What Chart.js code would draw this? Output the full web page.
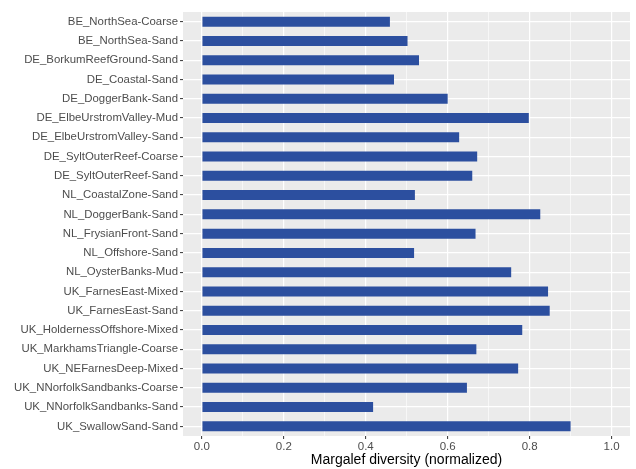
<!DOCTYPE html>
<html>
<head>
<meta charset="utf-8">
<script src="https://cdn.jsdelivr.net/npm/chart.js@4/dist/chart.umd.min.js"></script>
<style>
  html, body { margin: 0; padding: 0; background: #fff; }
  #wrap { width: 636px; height: 469px; }
</style>
</head>
<body>
<div id="wrap"><canvas id="chart" width="636" height="469"></canvas></div>
<script>
const sites = [
  "BE_NorthSea-Coarse", "BE_NorthSea-Sand", "DE_BorkumReefGround-Sand", "DE_Coastal-Sand",
  "DE_DoggerBank-Sand", "DE_ElbeUrstromValley-Mud", "DE_ElbeUrstromValley-Sand",
  "DE_SyltOuterReef-Coarse", "DE_SyltOuterReef-Sand", "NL_CoastalZone-Sand",
  "NL_DoggerBank-Sand", "NL_FrysianFront-Sand", "NL_Offshore-Sand", "NL_OysterBanks-Mud",
  "UK_FarnesEast-Mixed", "UK_FarnesEast-Sand", "UK_HoldernessOffshore-Mixed",
  "UK_MarkhamsTriangle-Coarse", "UK_NEFarnesDeep-Mixed", "UK_NNorfolkSandbanks-Coarse",
  "UK_NNorfolkSandbanks-Sand", "UK_SwallowSand-Sand"
];
const margalef = [
  0.459, 0.502, 0.530, 0.469, 0.600, 0.798, 0.628, 0.672, 0.660, 0.520, 0.826,
  0.668, 0.518, 0.755, 0.845, 0.849, 0.782, 0.670, 0.772, 0.647, 0.418, 0.900
];
const xMajor = [0, 0.2, 0.4, 0.6, 0.8, 1.0];
const xMinor = [0.1, 0.3, 0.5, 0.7, 0.9];

const panelBg = {
  id: "panelBg",
  beforeDraw(chart) {
    const { ctx, chartArea: a } = chart;
    ctx.save();
    ctx.fillStyle = "#ebebeb";
    ctx.fillRect(a.left, a.top, a.right - a.left, a.bottom - a.top);
    ctx.restore();
  }
};

const isMajor = v => xMajor.some(m => Math.abs(m - v) < 1e-6);

new Chart(document.getElementById("chart"), {
  type: "bar",
  data: {
    labels: sites,
    datasets: [{
      data: margalef,
      backgroundColor: "#2c4f9f",
      categoryPercentage: 1,
      barPercentage: 0.52,
    }]
  },
  options: {
    indexAxis: "y",
    responsive: false,
    animation: false,
    layout: { padding: { top: 12, right: 6, left: 0, bottom: 0 } },
    plugins: { legend: { display: false }, tooltip: { enabled: false } },
    scales: {
      x: {
        type: "linear",
        min: -0.046,
        max: 1.045,
        afterBuildTicks(scale) {
          scale.ticks = xMajor.concat(xMinor).sort((a, b) => a - b).map(v => ({ value: v }));
        },
        afterFit(scale) { scale.height = 33; },
        border: { display: false },
        grid: {
          color: "#ffffff",
          lineWidth: ctx => (isMajor(ctx.tick.value) ? 1.2 : 0.6),
          tickColor: ctx => (isMajor(ctx.tick.value) ? "#333333" : "rgba(0,0,0,0)"),
          tickLength: 3,
          tickWidth: 1,
        },
        ticks: {
          autoSkip: false,
          maxRotation: 0,
          padding: 1,
          color: "#4d4d4d",
          font: { family: "Liberation Sans, Arial, sans-serif", size: 11.5 },
          callback: v => (isMajor(v) ? v.toFixed(1) : ""),
        },
        title: {
          display: true,
          text: "Margalef diversity (normalized)",
          color: "#000",
          padding: { top: 0, bottom: 0 },
          font: { family: "Liberation Sans, Arial, sans-serif", size: 14 },
        }
      },
      y: {
        afterFit(scale) { scale.width = 183; },
        border: { display: false },
        grid: {
          offset: false,
          color: "#ffffff",
          lineWidth: 1.2,
          tickColor: "#333333",
          tickLength: 3,
          tickWidth: 1,
        },
        ticks: {
          autoSkip: false,
          padding: 2,
          color: "#4d4d4d",
          font: { family: "Liberation Sans, Arial, sans-serif", size: 11.4 },
        }
      }
    }
  },
  plugins: [panelBg]
});
</script>
</body>
</html>
